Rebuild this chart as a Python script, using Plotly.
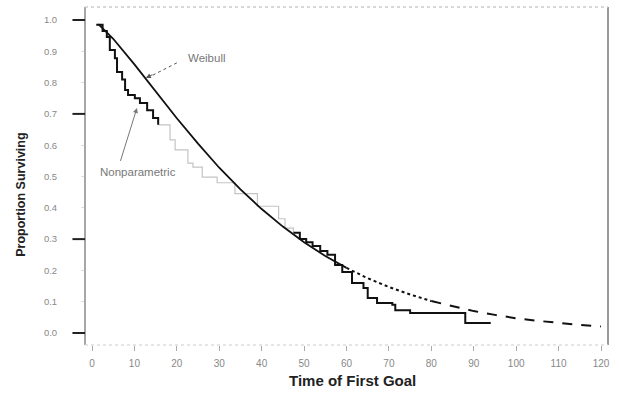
import plotly.graph_objects as go

# ---- data ----
weib_t = [1.5, 5, 10, 15, 20, 25, 30, 35, 40, 45, 50, 55, 60, 65, 70, 75, 80, 85, 90, 95, 100, 105, 110, 115, 120]
weib_s = [0.987, 0.940, 0.858, 0.772, 0.686, 0.605, 0.528, 0.459, 0.396, 0.340, 0.290, 0.246, 0.208,
          0.175, 0.147, 0.123, 0.102, 0.085, 0.070, 0.058, 0.047, 0.039, 0.032, 0.026, 0.021]

km_t = [1.0, 2.5, 3.5, 4.2, 5.4, 5.9, 7.1, 7.8, 8.5, 10.1, 11.3, 13.0, 14.4, 15.6,
        18.4, 19.6, 22.6, 23.8, 26.0, 29.5, 33.7, 39.0, 44.0, 45.5,
        47.5, 49.0, 50.5, 52.0, 53.8, 55.5, 57.3, 59.0, 61.3, 64.0, 65.0, 67.2, 70.8, 71.5, 75.0, 88.0, 94.0]
km_s = [0.985, 0.965, 0.946, 0.904, 0.878, 0.834, 0.810, 0.776, 0.760, 0.750, 0.735, 0.712, 0.687, 0.665,
        0.617, 0.585, 0.543, 0.530, 0.498, 0.480, 0.445, 0.405, 0.365, 0.335,
        0.320, 0.300, 0.290, 0.278, 0.262, 0.250, 0.217, 0.195, 0.160, 0.144, 0.112, 0.096, 0.090, 0.073, 0.064, 0.032, 0.032]

x_ticks = [0, 10, 20, 30, 40, 50, 60, 70, 80, 90, 100, 110, 120]
y_ticks = [0.0, 0.1, 0.2, 0.3, 0.4, 0.5, 0.6, 0.7, 0.8, 0.9, 1.0]
y_major = [0.0, 0.3, 0.7, 1.0]

fig = go.Figure()

# Nonparametric (Kaplan-Meier) step curve: early, middle (faint), late
i1 = km_t.index(15.6)
i2 = km_t.index(47.5)
fig.add_trace(go.Scatter(x=km_t[i1:i2 + 1], y=km_s[i1:i2 + 1], mode="lines", line=dict(shape="hv", color="#c4c4c4", width=1.2),
                         showlegend=False, hoverinfo="skip"))
fig.add_trace(go.Scatter(x=km_t[:i1 + 1], y=km_s[:i1 + 1], mode="lines", line=dict(shape="hv", color="#111", width=2),
                         showlegend=False, hoverinfo="skip"))
fig.add_trace(go.Scatter(x=km_t[i2:], y=km_s[i2:], mode="lines", line=dict(shape="hv", color="#111", width=2),
                         showlegend=False, hoverinfo="skip"))

# Weibull: solid, dotted, dashed parts
j1 = weib_t.index(60)
j2 = weib_t.index(80)
fig.add_trace(go.Scatter(x=weib_t[:j1 + 1], y=weib_s[:j1 + 1], mode="lines", line=dict(color="#111", width=1.8),
                         showlegend=False, hoverinfo="skip"))
fig.add_trace(go.Scatter(x=weib_t[j1:j2 + 1], y=weib_s[j1:j2 + 1], mode="lines", line=dict(color="#111", width=2, dash="dot"),
                         showlegend=False, hoverinfo="skip"))
fig.add_trace(go.Scatter(x=weib_t[j2:], y=weib_s[j2:], mode="lines", line=dict(color="#111", width=2, dash="10px,9px"),
                         showlegend=False, hoverinfo="skip"))

shapes = []
# frame
shapes.append(dict(type="line", xref="paper", yref="paper", x0=0, x1=0, y0=0, y1=1, line=dict(color="#888", width=1.5)))
shapes.append(dict(type="line", xref="paper", yref="paper", x0=1, x1=1, y0=0, y1=1, line=dict(color="#999", width=2)))
shapes.append(dict(type="line", xref="paper", yref="paper", x0=0, x1=1, y0=1, y1=1, line=dict(color="#ccc", width=1.5, dash="dot")))
shapes.append(dict(type="line", xref="paper", yref="paper", x0=0, x1=1, y0=0, y1=0, line=dict(color="#ddd", width=1.5, dash="dot")))
# bold y dashes
for v in y_major:
    shapes.append(dict(type="line", xref="paper", yref="y", x0=-0.024, x1=0, y0=v, y1=v, line=dict(color="#222", width=2)))
# Weibull pointer (dotted)
shapes.append(dict(type="line", xref="x", yref="y", x0=20.0, y0=0.863, x1=13.5, y1=0.818, line=dict(color="#555", width=1, dash="dot")))

annotations = [
    dict(x=27.0, y=0.879, xref="x", yref="y", text="Weibull", showarrow=False,
         font=dict(size=11.5, color="#777", family="Liberation Sans")),
    dict(x=12.7, y=0.815, xref="x", yref="y", text="", showarrow=True, arrowhead=2, arrowsize=1, arrowwidth=1,
         arrowcolor="#555", ax=8, ay=-4),
    dict(x=10.85, y=0.514, xref="x", yref="y", text="Nonparametric", showarrow=False,
         font=dict(size=11.5, color="#777", family="Liberation Sans")),
    dict(x=10.6, y=0.719, xref="x", yref="y", text="", showarrow=True, arrowhead=2, arrowsize=1, arrowwidth=1,
         arrowcolor="#777", axref="x", ayref="y", ax=6.6, ay=0.545),
    dict(x=0.512, y=-0.104, xref="paper", yref="paper", text="<b>Time of First Goal</b>", showarrow=False,
         yanchor="middle", font=dict(size=15, color="#222", family="Liberation Sans")),
    dict(x=-0.124, y=0.445, xref="paper", yref="paper", text="<b>Proportion Surviving</b>", showarrow=False,
         textangle=-90, xanchor="center", yanchor="middle", font=dict(size=12.5, color="#222", family="Liberation Sans")),
]

fig.update_layout(
    width=619, height=394,
    margin=dict(l=85, r=11, t=7, b=49),
    paper_bgcolor="white", plot_bgcolor="white",
    shapes=shapes, annotations=annotations,
    xaxis=dict(range=[-1.65, 121.65], tickvals=x_ticks, ticktext=[str(v) for v in x_ticks],
               showgrid=False, zeroline=False, showline=False,
               ticks="outside", ticklen=5, tickcolor="#aaa", tickwidth=1,
               ticklabelstandoff=4,
               tickfont=dict(size=10, color="#888", family="Liberation Sans")),
    yaxis=dict(range=[-0.0383, 1.0415], tickvals=y_ticks, ticktext=["%.1f" % v for v in y_ticks],
               showgrid=False, zeroline=False, showline=False,
               ticks="outside", ticklen=3, tickcolor="#ddd",
               ticklabelstandoff=22,
               tickfont=dict(size=9.5, color="#888", family="Liberation Sans")),
)

fig.write_html("out.html")
